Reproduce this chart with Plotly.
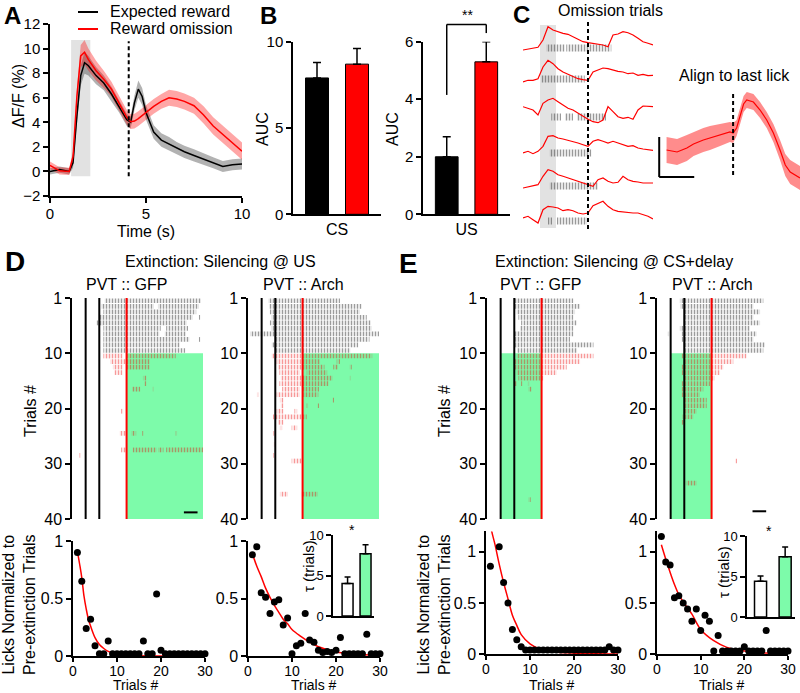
import plotly.graph_objects as go

W, H = 800, 693
FONT = "Liberation Sans, Arial, Helvetica, sans-serif"
RED = "#ff0000"
GREEN = "#7dfbaa"
BAND_GRAY = "#e2e2e2"
LICK_GRAY = "rgba(45,45,45,0.95)"
LICK_RED = "rgba(235,0,0,0.8)"

# ================= DATA =================
# Panel A : photometry (dF/F %) expected reward vs reward omission
A_time = [0, 0.5, 1.0, 1.2, 1.4, 1.6, 1.8, 2.0, 2.4, 2.8, 3.2, 3.6, 4.0, 4.2, 4.4, 4.6, 4.8, 5.0,
          5.4, 5.8, 6.2, 6.6, 7.0, 7.5, 8.0, 8.5, 9.0, 9.5, 10.0]
A_expected = [0.0, 0.15, 0.0, 0.7, 4.5, 7.8, 8.85, 8.6, 7.8, 7.2, 6.3, 5.3, 4.2, 4.0, 5.6, 6.7, 6.1, 4.8,
              3.2, 2.55, 2.25, 1.9, 1.6, 1.3, 1.0, 0.7, 0.4, 0.55, 0.6]
A_expected_sem = [0.25, 0.25, 0.25, 0.4, 0.6, 0.8, 0.9, 0.8, 0.7, 0.6, 0.6, 0.5, 0.5, 0.5, 0.6, 0.7, 0.7, 0.6,
                  0.55, 0.55, 0.55, 0.5, 0.5, 0.5, 0.45, 0.45, 0.45, 0.45, 0.45]
A_omission = [0.5, 0.05, 0.0, 1.2, 6.1, 9.4, 9.7, 9.1, 8.2, 7.5, 6.7, 5.6, 4.4, 4.05, 4.1, 4.3, 4.55, 4.8,
              5.3, 5.7, 6.0, 5.9, 5.7, 5.35, 4.6, 3.7, 3.0, 2.35, 1.65]
A_omission_sem = [0.3, 0.3, 0.3, 0.4, 0.6, 0.9, 1.0, 0.9, 0.8, 0.7, 0.6, 0.6, 0.6, 0.6, 0.6, 0.6, 0.6, 0.6,
                  0.6, 0.6, 0.65, 0.65, 0.65, 0.65, 0.7, 0.7, 0.7, 0.7, 0.7]
A_cs_window = [1.1, 2.1]
A_us_time = 4.1

# Panel B : AUC
B_x = [1, 2]
B_colors = ["black", RED]
B_cs_auc = [7.9, 8.7]
B_cs_sem = [0.9, 0.9]
B_us_auc = [2.0, 5.3]
B_us_sem = [0.7, 0.7]

# Panel C : example omission trials (signal, arbitrary units) and licks
C_time = [0, 0.5, 1, 1.5, 2, 2.5, 3, 3.5, 4, 4.5, 5, 5.5, 6, 6.5, 7, 7.5, 8, 8.5, 9, 9.5,
          10, 10.5, 11, 11.5, 12, 12.5, 13]
C_trial_1 = [0, 0.7, 1.7, 2.7, 10, 23.3, 20, 18.3, 16.7, 15.7, 13.3, 10.7, 8.3, 7.3, 6.7, 6, 5, 3.3, 15, 16,
             18.3, 17.3, 15, 11.7, 8.3, 6.7, 5]
C_trial_2 = [0, 1.7, 1.7, 3.3, 15, 21.7, 18.3, 13.3, 10, 7.7, 5, 3.3, 2.3, 1.7, 10, 11.7, 14, 13.3, 11.7, 10.7,
             10, 8.3, 9, 6.7, 7.7, 6.3, 6.7]
C_trial_3 = [3.3, 1.7, 0, -5, 6.7, 10, 11.7, 8.3, 5, 1.7, 0, -3.3, -6.7, -9.3, -11.7, -12.7, -10, 3.3, -1.7, -6.7,
             -8.3, -7.3, -9.3, 0, 4, 3.3, 3.3]
C_trial_4 = [0, 1.7, -0.7, 1.7, 6.7, 16.7, 17.3, 15, 14, 12.7, 11.7, 10, 8.3, 6.7, 11.7, 13.3, 11.7, 10, 11.7, 10,
             8.3, 6.7, 7.3, 5, 4, 3.3, 2.7]
C_trial_5 = [0, 1, 1.7, 3.3, 11.7, 18.3, 16.7, 13.3, 11.7, 10, 8.3, 6.7, 5, 3.3, 1.7, 8.3, 10, 6.7, 5, 5.7,
             11.7, 8.3, 6.7, 6, 5, 5, 5]
C_trial_6 = [0, 1.7, -1.7, -5, 8.3, 11.7, 11, 10, 7.3, 8.3, 7.3, 5, 4, 5, 12.3, 14.3, 16.7, 11.7, 8.3, 6.7,
             6, 5.7, 5, 5, 3.3, 1.7, -1]
C_lick_bouts = [(0, 2.33, 4.17), (0, 4.33, 8.83), (1, 1.83, 6.17), (2, 2.83, 3.8), (2, 4.2, 5.0), (2, 5.4, 8.3),
                (3, 2.67, 6.83), (4, 2.67, 7.5), (5, 2.5, 2.9), (5, 3.4, 6.4)]
C_cs_window = [1.7, 3.3]
C_us_time = 6.5
C_align_time = [-1.9, -1.6, -1.32, -1.13, -0.85, -0.66, -0.37, -0.09, 0.0, 0.1, 0.3, 0.39, 0.58, 0.77,
                0.96, 1.15, 1.34, 1.49, 1.63, 1.91]
C_align_mean = [30, 28, 32, 36, 40, 42, 45, 48, 47, 52, 76, 80, 78, 70, 60, 47, 30, 15, 8, 2]
C_align_sem = [13, 13, 13, 12, 12, 12, 11, 10, 10, 8, 8, 8, 8, 8, 8, 9, 10, 11, 12, 12]

# Rasters: (trial index from 0, lick bout start s, lick bout end s)
N_PRE = 10
N_TRIALS = 40
RASTER_EVENTS = [0, 1, 3]          # CS on, CS off, US
RASTER_WINDOW = [-1, 8.6]
LASER_US = [3, 8.6]
LASER_CS_DELAY = [0, 3]
D_GFP_LICKS = [
    (0, 1.4, 8.45), (1, 1.15, 5.0), (1, 5.3, 8.3), (2, 1.3, 8.1), (3, 1.0, 7.85), (3, 8.3, 8.4),
    (4, 0.8, 7.4), (5, 1.3, 5.5), (5, 5.9, 7.5), (6, 1.3, 5.4), (6, 5.8, 7.35), (7, 1.3, 7.6),
    (7, 8.3, 8.4), (8, 1.3, 6.9), (9, 1.3, 7.3),
    (10, 1.3, 2.7), (10, 3.0, 6.6), (11, 1.8, 4.7), (12, 2.0, 2.7), (12, 3.0, 4.7), (13, 2.1, 2.7),
    (14, 4.2, 4.45), (15, 4.3, 4.45), (16, 3.4, 4.0), (16, 4.9, 5.0), (20, 2.6, 2.75),
    (24, 2.5, 3.0), (24, 3.35, 3.7), (24, 4.15, 4.25), (24, 6.6, 6.7),
    (27, 2.6, 3.0), (27, 3.45, 5.2), (27, 5.3, 5.7), (27, 5.9, 8.6), (28, -0.45, -0.35),
]
D_ARCH_LICKS = [
    (0, 0.5, 5.74), (1, 0.55, 7.33), (2, 0.6, 7.2), (3, 0.7, 7.7), (4, 0.6, 8.0), (5, 0.7, 8.06),
    (6, -0.85, 8.6), (7, 1.0, 7.9), (8, 0.74, 7.08), (9, 1.0, 6.5),
    (10, 0.74, 8.1), (11, 1.1, 4.28), (11, 5.5, 5.74), (12, 1.2, 4.6), (12, 5.25, 5.6), (12, 6.45, 6.6),
    (13, 1.3, 2.8), (13, 3.3, 4.8), (14, 1.4, 5.2), (14, 6.45, 6.55), (15, 1.3, 4.9),
    (16, 1.5, 2.8), (16, 3.0, 4.2), (17, -0.35, -0.25), (17, 1.1, 2.8), (17, 3.05, 4.15),
    (18, 1.34, 1.6), (18, 5.2, 5.3), (19, 1.4, 1.6), (19, 3.3, 3.4), (19, 4.1, 4.2),
    (20, 1.1, 1.6), (20, 2.4, 2.6), (21, 0.83, 3.3), (22, 1.2, 1.6), (23, 1.34, 1.5), (23, 2.2, 2.6),
    (24, 0.86, 1.0), (26, 0.9, 1.0), (28, 0.86, 0.95), (29, 2.2, 2.93), (35, 1.34, 1.93), (35, 2.93, 4.13),
]
E_GFP_LICKS = [
    (0, 1.05, 5.33), (1, 1.0, 5.82), (2, 1.17, 5.45), (3, 1.3, 5.33), (4, 1.5, 5.57),
    (5, 1.42, 5.33), (6, 1.05, 5.33), (7, 1.05, 5.08), (8, 1.05, 6.8), (9, 1.2, 5.6),
    (10, 1.17, 6.8), (11, 0.95, 5.82), (12, 1.05, 4.84), (13, 1.17, 4.1), (14, 1.3, 3.13),
    (15, 1.05, 1.2), (15, 1.5, 1.6), (15, 2.0, 2.1), (16, 2.03, 2.27), (36, 2.03, 2.2),
]
E_ARCH_LICKS = [
    (0, 0.68, 6.79), (1, 0.7, 6.06), (2, 1.05, 6.55), (3, 0.93, 6.06), (4, 0.93, 6.55),
    (5, 0.68, 5.81), (6, -0.2, -0.1), (6, 0.81, 6.3), (7, 0.81, 6.06), (8, 0.93, 6.91), (9, 0.93, 6.79),
    (10, 0.81, 5.57), (11, 0.93, 4.59), (12, 0.81, 3.86), (13, 0.81, 3.62), (14, 0.93, 3.25),
    (15, 0.81, 2.88), (16, 0.81, 2.39), (17, 0.81, 2.15), (18, 0.93, 2.64), (19, 0.93, 2.64),
    (20, 0.93, 1.91), (21, 0.88, 1.66), (22, 0.81, 1.05), (29, 4.74, 4.86), (33, 1.12, 1.91),
]
SCALE_BAR_S = 1.0

# Decay plots: licks normalized to pre-extinction trials
EXT_TRIALS = list(range(1, 31))
D_gfp_norm = [0.9, 0.65, 0.24, 0.32, 0.09, 0.02, 0.02, 0.13, 0.02, 0.02, 0.02, 0.02, 0.02, 0.02, 0.02,
              0.13, 0.02, 0.02, 0.54, 0.05, 0.02, 0.02, 0.02, 0.02, 0.02, 0.02, 0.02, 0.02, 0.02, 0.02]
D_arch_norm = [0.88, 0.95, 0.55, 0.51, 0.37, 0.47, 0.49, 0.27, 0.33, 0.02, 0.09, 0.11, 0.37, 0.14, 0.12,
               0.05, 0.03, 0.04, 0.03, 0.05, 0.16, 0.02, 0.02, 0.02, 0.02, 0.02, 0.19, 0.02, 0.02, 0.02]
E_gfp_norm = [0.86, None, 1.05, 0.70, 0.50, 0.24, 0.14, 0.07, 0.04, 0.04, 0.04, 0.04, 0.04, 0.04, 0.04,
              0.04, 0.04, 0.04, 0.04, 0.04, 0.04, 0.04, 0.04, 0.04, 0.04, 0.04, 0.04, 0.07, 0.04, 0.04]
E_arch_norm = [1.15, 0.9, 0.87, 0.55, 0.57, 0.5, 0.44, 0.32, 0.44, 0.23, 0.38, 0.32, 0.03, 0.18, 0.03,
               0.03, 0.03, 0.03, 0.03, 0.07, 0.03, 0.03, 0.03, 0.03, 0.23, 0.03, 0.03, 0.03, 0.03, 0.03]
D_gfp_fit_x = [1, 1.5, 2, 2.5, 3, 3.5, 4, 5, 6, 7, 8, 10, 12, 15, 20, 25, 30]
D_gfp_fit_y = [0.91, 0.8, 0.68, 0.52, 0.41, 0.32, 0.26, 0.16, 0.10, 0.065, 0.04, 0.015, 0.006, 0.002, 0, 0, 0]
D_arch_fit_x = [1, 2, 3, 4, 5, 6, 7, 8, 9, 10, 12, 14, 16, 18, 20, 22, 25, 28, 30]
D_arch_fit_y = [0.89, 0.78, 0.69, 0.59, 0.51, 0.44, 0.38, 0.32, 0.28, 0.23, 0.17, 0.12, 0.08, 0.055,
                0.035, 0.025, 0.015, 0.008, 0.005]
E_gfp_fit_x = [1.1, 1.3, 2, 3, 4, 5, 6, 7, 8, 10, 12, 15, 20, 25, 30]
E_gfp_fit_y = [1.25, 1.2, 1.08, 0.88, 0.70, 0.54, 0.38, 0.28, 0.19, 0.1, 0.055, 0.025, 0.008, 0.003, 0.001]
E_arch_fit_x = [1, 2, 3, 4, 5, 6, 7, 8, 10, 13, 16, 20, 25, 30]
E_arch_fit_y = [1.07, 0.93, 0.8, 0.68, 0.58, 0.51, 0.45, 0.39, 0.24, 0.13, 0.065, 0.03, 0.01, 0.005]

# Insets: tau (trials)
TAU_X = [1, 2]
TAU_COLORS = ["white", GREEN]
D_tau = [4.0, 7.7]
D_tau_sem = [0.8, 1.1]
E_tau = [4.4, 7.45]
E_tau_sem = [0.65, 1.2]

# ================= LAYOUT HELPERS =================
fig = go.Figure()
shapes, annotations, axes = [], [], {}


def ref(n):
    return ("x", "y") if n == 1 else (f"x{n}", f"y{n}")


def base_axis(size):
    return dict(showline=True, linecolor="black", linewidth=1.5, ticks="outside", ticklen=5,
                tickwidth=1.5, tickcolor="black", showgrid=False, zeroline=False, fixedrange=True,
                automargin=False, tickfont=dict(family=FONT, size=size, color="black"))


def add_axes(n, xpx, ypx, xkw=None, ykw=None, size=15):
    xr, yr = ref(n)
    xa = base_axis(size)
    xa.update(domain=[xpx[0] / W, xpx[1] / W], anchor=yr)
    ya = base_axis(size)
    ya.update(domain=[1 - ypx[1] / H, 1 - ypx[0] / H], anchor=xr)
    xa.update(xkw or {})
    ya.update(ykw or {})
    axes["xaxis" if n == 1 else f"xaxis{n}"] = xa
    axes["yaxis" if n == 1 else f"yaxis{n}"] = ya


def label(text, x, y, size=16, bold=False, angle=0, xanchor="center", yanchor="middle"):
    annotations.append(dict(text=f"<b>{text}</b>" if bold else text, x=x / W, y=1 - y / H,
                            xref="paper", yref="paper", showarrow=False, textangle=angle,
                            xanchor=xanchor, yanchor=yanchor, borderpad=0,
                            font=dict(family=FONT, size=size, color="black")))


def band(n, x, mean, sem, fill):
    xr, yr = ref(n)
    up = [m + s for m, s in zip(mean, sem)]
    lo = [m - s for m, s in zip(mean, sem)]
    fig.add_trace(go.Scatter(x=x, y=up, mode="lines", line=dict(width=0), xaxis=xr, yaxis=yr,
                             hoverinfo="skip", showlegend=False))
    fig.add_trace(go.Scatter(x=x, y=lo, mode="lines", line=dict(width=0), fill="tonexty", fillcolor=fill,
                             xaxis=xr, yaxis=yr, hoverinfo="skip", showlegend=False))


def lick_bars(n, rows_y, starts, ends, color, height, size=3):
    xr, yr = ref(n)
    fig.add_trace(go.Bar(orientation="h", y=rows_y, base=starts, x=[e - s for s, e in zip(starts, ends)],
                         width=height, xaxis=xr, yaxis=yr, cliponaxis=False, hoverinfo="skip",
                         showlegend=False,
                         marker=dict(color="rgba(0,0,0,0)", line=dict(width=0),
                                     pattern=dict(shape="|", fgcolor=color, bgcolor="rgba(0,0,0,0)",
                                                  size=size, solidity=0.5))))


def hline_shape(n, x0, x1, y0, y1, color="black", width=2, dash=None, layer="above"):
    xr, yr = ref(n)
    ln = dict(color=color, width=width)
    if dash:
        ln["dash"] = dash
    shapes.append(dict(type="line", xref=xr, yref=yr, x0=x0, x1=x1, y0=y0, y1=y1, line=ln, layer=layer))


def rect_shape(n, x0, x1, y0, y1, color):
    xr, yr = ref(n)
    shapes.append(dict(type="rect", xref=xr, yref=yr, x0=x0, x1=x1, y0=y0, y1=y1, fillcolor=color,
                       line=dict(width=0), layer="below"))


HIDDEN = dict(visible=False)

# ================= PANEL A =================
add_axes(1, (50, 242), (24, 196), dict(range=[0, 10], tickvals=[0, 5, 10], ticklabelstandoff=-2),
         dict(range=[-2, 12], tickvals=list(range(-2, 13, 2))), size=15)
rect_shape(1, A_cs_window[0], A_cs_window[1], -0.4, 10.7, BAND_GRAY)
band(1, A_time, A_expected, A_expected_sem, "rgba(0,0,0,0.3)")
band(1, A_time, A_omission, A_omission_sem, "rgba(255,0,0,0.35)")
fig.add_trace(go.Scatter(x=A_time, y=A_expected, mode="lines", line=dict(color="black", width=1.5),
                         xaxis="x", yaxis="y", showlegend=False))
fig.add_trace(go.Scatter(x=A_time, y=A_omission, mode="lines", line=dict(color=RED, width=1.5),
                         xaxis="x", yaxis="y", showlegend=False))
hline_shape(1, A_us_time, A_us_time, -0.4, 10.6, dash="4px,3px")
for yy, col in ((12, "black"), (29, RED)):
    shapes.append(dict(type="line", xref="paper", yref="paper", x0=78 / W, x1=98 / W, y0=1 - yy / H,
                       y1=1 - yy / H, line=dict(color=col, width=2)))
label("Expected reward", 109, 12, 16, xanchor="left")
label("Reward omission", 109, 29, 16, xanchor="left")
label("Time (s)", 146, 222, 16, yanchor="top")
label("ΔF/F (%)", 19, 96, 16, angle=-90)
label("A", 12, 15, 24, bold=True)

# ================= PANEL B =================
B_XRANGE = [0.4, 2.6]
add_axes(2, (293, 381), (41.7, 214.3), dict(range=B_XRANGE, tickvals=[1.5], ticktext=["CS"], ticks=""),
         dict(range=[0, 10], tickvals=[0, 5, 10]), size=15)
add_axes(3, (423, 510), (41.7, 214.3), dict(range=B_XRANGE, tickvals=[1.5], ticktext=["US"], ticks=""),
         dict(range=[0, 6], tickvals=[0, 2, 4, 6]), size=15)
axes["xaxis2"]["tickfont"]["size"] = 16
axes["xaxis3"]["tickfont"]["size"] = 16
for n, vals, sems in ((2, B_cs_auc, B_cs_sem), (3, B_us_auc, B_us_sem)):
    xr, yr = ref(n)
    fig.add_trace(go.Bar(x=B_x, y=vals, width=0.575, xaxis=xr, yaxis=yr, showlegend=False,
                         marker=dict(color=B_colors, line=dict(color="black", width=1)),
                         error_y=dict(type="data", array=sems, arrayminus=[0, 0], symmetric=False,
                                      color="black", thickness=1.5, width=4)))
# significance bracket (domain coordinates of y3)
fx = [(b - B_XRANGE[0]) / (B_XRANGE[1] - B_XRANGE[0]) for b in B_x]
ytop = 6.6 / 6
for x0, x1, y0, y1 in ((fx[0], fx[0], 4.15 / 6, ytop), (fx[0], fx[1], ytop, ytop), (fx[1], fx[1], ytop, 6.3 / 6)):
    shapes.append(dict(type="line", xref="x3 domain", yref="y3 domain", x0=x0, x1=x1, y0=y0, y1=y1,
                       line=dict(color="black", width=1.5)))
label("**", 467, 15, 14)
label("AUC", 262, 129, 16, angle=-90)
label("AUC", 392, 129, 16, angle=-90)
label("B", 268, 15, 24, bold=True)

# ================= PANEL C =================
C_ROW_BASE = [50, 82, 110, 153, 188, 218]
C_LICK_Y = [48, 79, 117, 153, 186, 221]
add_axes(4, (523, 653), (20, 232), dict(HIDDEN, range=[0, 13]), dict(HIDDEN, range=[232, 20]))
rect_shape(4, C_cs_window[0], C_cs_window[1], 25, 228, BAND_GRAY)
lick_bars(4, [C_LICK_Y[r] for r, s, e in C_lick_bouts], [s for r, s, e in C_lick_bouts],
          [e for r, s, e in C_lick_bouts], "rgba(40,40,40,0.95)", 7, size=3)
for base, sig in zip(C_ROW_BASE, [C_trial_1, C_trial_2, C_trial_3, C_trial_4, C_trial_5, C_trial_6]):
    fig.add_trace(go.Scatter(x=C_time, y=[base - v for v in sig], mode="lines",
                             line=dict(color=RED, width=1.2), xaxis="x4", yaxis="y4", showlegend=False))
hline_shape(4, C_us_time, C_us_time, 22, 232, dash="4px,3px")

add_axes(5, (655, 800), (88, 195), dict(HIDDEN, range=[-2.23, 1.91]), dict(HIDDEN, range=[-15, 92]))
band(5, C_align_time, C_align_mean, C_align_sem, "rgba(255,0,0,0.45)")
fig.add_trace(go.Scatter(x=C_align_time, y=C_align_mean, mode="lines", line=dict(color=RED, width=1.2),
                         xaxis="x5", yaxis="y5", showlegend=False))
hline_shape(5, 0, 0, 5, 87, dash="4px,3px")
hline_shape(5, -2.11, -2.11, 3, 43, width=2)
hline_shape(5, -2.11, -1.11, 3, 3, width=2)
label("Omission trials", 610, 11, 16)
label("Align to last lick", 734, 75, 16)
label("C", 521, 14, 24, bold=True)

# ================= RASTERS =================
def raster(n, xpx, licks, laser, scale_bar_at=None):
    add_axes(n, xpx, (298, 519), dict(HIDDEN, range=RASTER_WINDOW),
             dict(range=[N_TRIALS, 0], tickvals=[0, 10, 20, 30, 40], ticktext=["1", "10", "20", "30", "40"]),
             size=16)
    rect_shape(n, laser[0], laser[1], N_PRE, N_TRIALS, GREEN)
    for keep, color in ((lambda r: r < N_PRE, LICK_GRAY), (lambda r: r >= N_PRE, LICK_RED)):
        sel = [l for l in licks if keep(l[0])]
        lick_bars(n, [r + 0.5 for r, s, e in sel], [s for r, s, e in sel], [e for r, s, e in sel], color, 0.85)
    for ev, col in zip(RASTER_EVENTS, ["black", "black", RED]):
        hline_shape(n, ev, ev, 0, N_TRIALS, color=col, width=2)
    if scale_bar_at:
        hline_shape(n, scale_bar_at[0], scale_bar_at[0] + SCALE_BAR_S, scale_bar_at[1], scale_bar_at[1], width=2)


raster(6, (72, 203), D_GFP_LICKS, LASER_US, scale_bar_at=(7.2, 38.8))
raster(7, (248, 379), D_ARCH_LICKS, LASER_US)
raster(8, (487, 618), E_GFP_LICKS, LASER_CS_DELAY)
raster(9, (657, 788), E_ARCH_LICKS, LASER_CS_DELAY, scale_bar_at=(6.0, 38.6))

label("D", 15, 261, 28, bold=True)
label("E", 408, 263, 28, bold=True)
label("Extinction: Silencing @ US", 220, 262, 16)
label("PVT :: GFP", 127, 284, 16)
label("PVT :: Arch", 303, 284, 16)
label("Extinction: Silencing @ CS+delay", 614, 262, 16)
label("PVT :: GFP", 541, 284, 16)
label("PVT :: Arch", 712, 284, 16)
label("Trials #", 30, 411, 16, angle=-90)
label("Trials #", 444, 411, 16, angle=-90)

# ================= DECAY PLOTS =================
def decay(n, xpx, ypx, yrange, values, fx_, fy_):
    add_axes(n, xpx, ypx, dict(range=[0, 30], tickvals=[0, 10, 20, 30], ticklen=4, ticklabelstandoff=-3),
             dict(range=yrange, tickvals=[0, 0.5, 1], ticktext=["0", "0.5", "1"]), size=16)
    axes[f"xaxis{n}"]["tickfont"]["size"] = 14
    xr, yr = ref(n)
    fig.add_trace(go.Scatter(x=fx_, y=fy_, mode="lines", line=dict(color=RED, width=1.5, shape="spline"),
                             xaxis=xr, yaxis=yr, showlegend=False))
    fig.add_trace(go.Scatter(x=EXT_TRIALS, y=values, mode="markers", marker=dict(color="black", size=7),
                             xaxis=xr, yaxis=yr, cliponaxis=False, showlegend=False))


decay(10, (73, 205), (541, 656), [0, 1], D_gfp_norm, D_gfp_fit_x, D_gfp_fit_y)
decay(11, (248, 380), (541, 656), [0, 1], D_arch_norm, D_arch_fit_x, D_arch_fit_y)
decay(12, (486, 618), (531.4, 654), [0, 1.2], E_gfp_norm, E_gfp_fit_x, E_gfp_fit_y)
decay(13, (657, 788), (531.4, 654), [0, 1.2], E_arch_norm, E_arch_fit_x, E_arch_fit_y)
for x in (136, 314, 552, 722):
    label("Trials #", x, 694, 14, yanchor="bottom")
label("Licks Normalized to<br>Pre-extinction Trials", 19, 605, 16, angle=-90)
label("Licks Normalized to<br>Pre-extinction Trials", 434, 605, 16, angle=-90)

# ================= INSETS =================
def inset(n, xpx, ypx, xrange, width, vals, sems):
    add_axes(n, xpx, ypx, dict(range=xrange, showticklabels=False, ticks=""),
             dict(range=[0, 10], tickvals=[0, 5, 10]), size=13)
    xr, yr = ref(n)
    fig.add_trace(go.Bar(x=TAU_X, y=vals, width=width, xaxis=xr, yaxis=yr, showlegend=False,
                         marker=dict(color=TAU_COLORS, line=dict(color="black", width=1.5)),
                         error_y=dict(type="data", array=sems, arrayminus=[0, 0], symmetric=False,
                                      color="black", thickness=1.5, width=3)))


inset(14, (333, 374), (535, 616), [0.19, 2.47], 0.61, D_tau, D_tau_sem)
inset(15, (747, 795), (536, 617), [0.45, 2.4], 0.49, E_tau, E_tau_sem)
label("τ (trials)", 308, 566, 15, angle=-90)
label("τ (trials)", 723, 572, 15, angle=-90)
label("*", 352, 530, 14)
label("*", 769, 531, 14)

fig.update_layout(width=W, height=H, margin=dict(l=0, r=0, t=0, b=0), paper_bgcolor="white",
                  plot_bgcolor="rgba(0,0,0,0)", showlegend=False, barmode="overlay",
                  shapes=shapes, annotations=annotations, font=dict(family=FONT, color="black"), **axes)
fig.write_html("out.html", config={"displayModeBar": False},
               post_script="document.body.style.margin='0';document.body.style.overflow='hidden';")
